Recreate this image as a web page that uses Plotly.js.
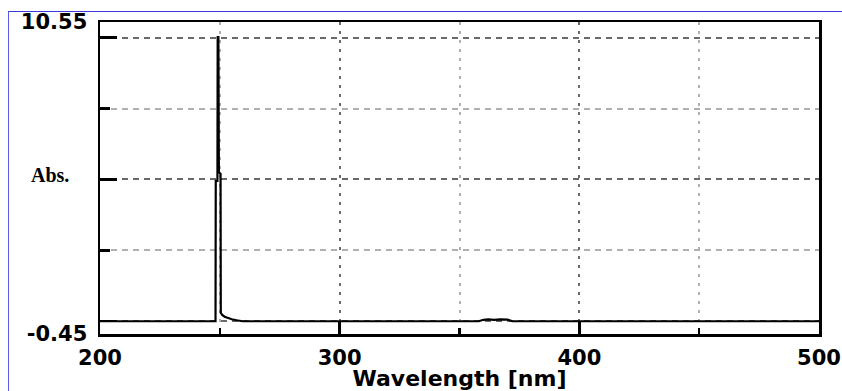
<!DOCTYPE html>
<html>
<head>
<meta charset="utf-8">
<script src="https://cdn.plot.ly/plotly-3.0.1.min.js"></script>
<style>
  html, body { margin: 0; padding: 0; background: #ffffff; }
  #chart { width: 842px; height: 391px; position: relative; }
  #frame { position: absolute; left: 8px; top: 11px; width: 834px; height: 380px;
           border-top: 1px solid #3a3ad8; border-left: 1px solid #5a5ae8;
           pointer-events: none; z-index: 10; box-sizing: border-box; }
</style>
</head>
<body>
<div id="chart"></div>
<div id="frame"></div>
<script>
// Spectrum data (wavelength in nm, absorbance)
const wavelength = [200, 248.2, 248.3, 249.0, 249.1, 249.4, 249.6, 250.3, 250.4, 251, 252, 253.5, 255, 257, 259.5,
                    358, 360, 362, 364.5, 367, 370, 372, 500];
const absorbance = [0, 0, 4.95, 4.95, 10.02, 10.02, 5.25, 5.2, 0.3, 0.22, 0.16, 0.11, 0.07, 0.035, 0,
                    0, 0.05, 0.065, 0.05, 0.065, 0.06, 0, 0];

// Axis ticks
const xRange = [200, 500];
const xMajorTicks = [200, 300, 400, 500];
const xMinorTicks = [250, 350, 450];
const yRange = [-0.45, 10.55];
const yMajorTicks = [-0.45, 0, 5, 10, 10.55];
const yMajorText = ['-0.45', '', '', '', '10.55'];
const yMinorTicks = [2.5, 7.5];

const xTitle = 'Wavelength [nm]';
const yLabel = 'Abs.';

const tickFont = { family: 'DejaVu Sans, Arial, sans-serif', size: 21, color: '#000', weight: 'bold' };

const trace = {
  x: wavelength, y: absorbance, type: 'scatter', mode: 'lines',
  line: { color: '#000000', width: 2.2 }, hoverinfo: 'skip', showlegend: false
};

const layout = {
  width: 842, height: 391,
  margin: { l: 100, r: 23, t: 22, b: 57 },
  paper_bgcolor: '#ffffff', plot_bgcolor: '#ffffff',
  showlegend: false,
  xaxis: {
    range: xRange, tickmode: 'array', tickvals: xMajorTicks,
    ticktext: xMajorTicks.map(String),
    ticks: 'inside', ticklen: 12, tickwidth: 2.5, tickcolor: '#000',
    showline: true, linewidth: 2.5, linecolor: '#000', mirror: true,
    showgrid: true, gridcolor: '#6a6a6a', gridwidth: 2, griddash: '3px,6px',
    zeroline: false, tickfont: tickFont, ticklabelstandoff: 3,
    minor: { tickmode: 'array', tickvals: xMinorTicks, ticks: 'inside', ticklen: 6,
             tickwidth: 2.5, tickcolor: '#000', showgrid: true, gridcolor: '#b0b0b0',
             gridwidth: 2, griddash: '3px,6px' },
    title: { text: xTitle, font: { family: 'DejaVu Sans, Arial, sans-serif', size: 22, color: '#000', weight: 'bold' }, standoff: 5 }
  },
  yaxis: {
    range: yRange, tickmode: 'array', tickvals: yMajorTicks, ticktext: yMajorText,
    ticks: 'inside', ticklen: 17, tickwidth: 2.5, tickcolor: '#000',
    showline: true, linewidth: 2.5, linecolor: '#000', mirror: true,
    showgrid: true, gridcolor: '#6a6a6a', gridwidth: 2, griddash: '6px,5px',
    zeroline: false, tickfont: tickFont, ticklabelstandoff: 6,
    minor: { tickmode: 'array', tickvals: yMinorTicks, ticks: 'inside', ticklen: 10,
             tickwidth: 2.5, tickcolor: '#000', showgrid: true, gridcolor: '#b0b0b0',
             gridwidth: 2, griddash: '6px,5px' }
  },
  annotations: [{
    text: yLabel, xref: 'paper', yref: 'paper', x: -0.069, y: 0.51,
    xanchor: 'center', yanchor: 'middle', showarrow: false,
    font: { family: 'Liberation Serif, Times New Roman, serif', size: 20, color: '#000', weight: 'bold' }
  }]
};

Plotly.newPlot('chart', [trace], layout, { staticPlot: true, displayModeBar: false });
</script>
</body>
</html>
